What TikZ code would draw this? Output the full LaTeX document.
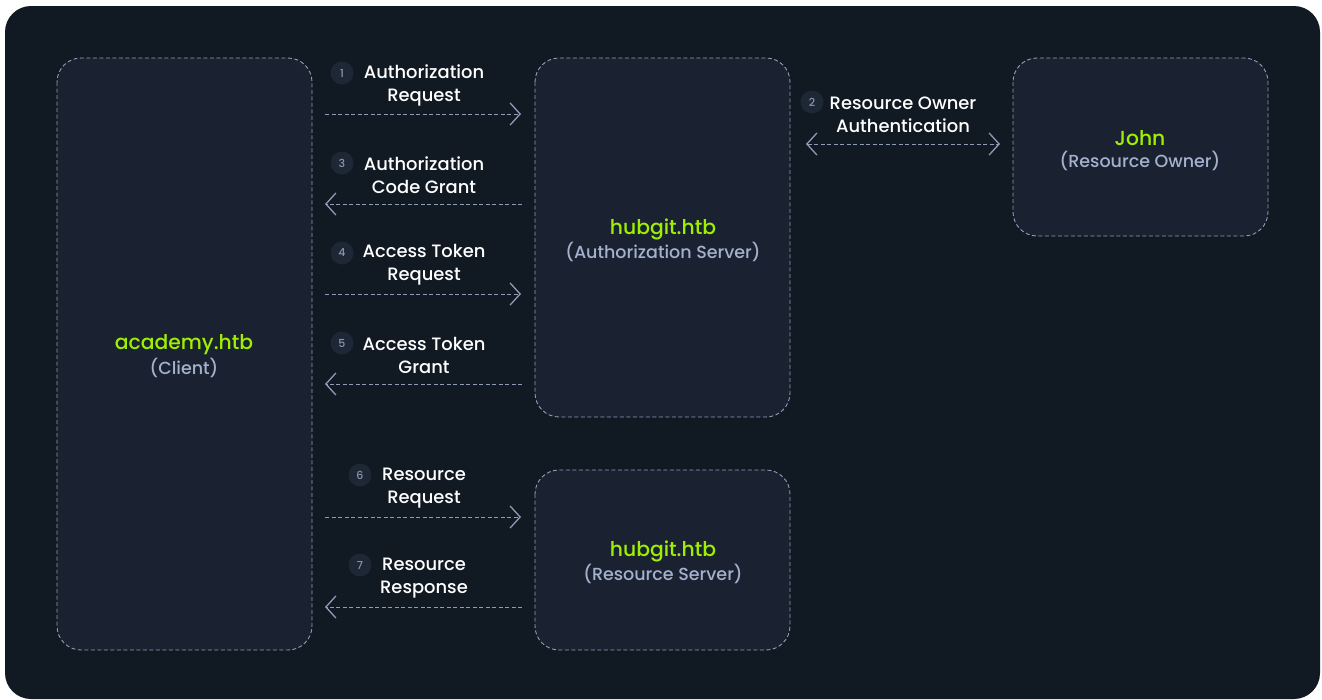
\documentclass[tikz,border=0pt]{standalone}
\usepackage{fontspec}
\setmainfont{Poppins}[UprightFont=* Medium]
\usetikzlibrary{arrows.meta}
\definecolor{bgdark}{HTML}{111922}
\definecolor{boxfill}{HTML}{1A2231}
\definecolor{dashc}{HTML}{8E9CB8}
\definecolor{htbgreen}{HTML}{9FEF00}
\definecolor{subgray}{HTML}{A4B1CD}
\definecolor{numfill}{HTML}{1E2736}
\definecolor{numtext}{HTML}{8A96AB}
\tikzset{
  x=1pt,y=-1pt,
  entity/.style={draw=dashc, fill=boxfill, dash pattern=on 4pt off 2.5pt, line width=0.9pt, rounded corners=24pt},
  flow/.style={draw=dashc, dash pattern=on 4pt off 2.5pt, line width=0.9pt},
  chev/.style={-{Straight Barb[length=10pt,width=22pt,line width=1.3pt]}},
  chevboth/.style={{Straight Barb[length=10pt,width=22pt,line width=1.3pt]}-{Straight Barb[length=10pt,width=22pt,line width=1.3pt]}},
  ttl/.style={text=htbgreen, font=\fontsize{20.3}{22}\selectfont, anchor=center},
  sub/.style={text=subgray, font=\fontsize{17.5}{19}\selectfont, anchor=center},
  lbl/.style={text=white, font=\fontsize{17.9}{23}\selectfont, align=center, anchor=center},
  num/.style={circle, fill=numfill, text=numtext, minimum size=23pt, inner sep=0pt, font=\fontsize{11}{11}\selectfont},
}
\begin{document}
\begin{tikzpicture}
\useasboundingbox (0,0) rectangle (1322,699);
\fill[white] (0,0) rectangle (1322,699);
\fill[bgdark, rounded corners=26pt] (5,6) rectangle (1320,699);
% boxes
\path[entity] (57,58) rectangle (312,650);
\path[entity] (535,58) rectangle (790,417);
\path[entity] (1013,58) rectangle (1268,236);
\path[entity] (535,470) rectangle (790,650);
% titles
\node[ttl] (clientT) at (184,345) {academy.htb};
\node[sub] (clientS) at (184,368) {(Client)};
\node[ttl] (authT) at (663,229) {hubgit.htb};
\node[sub] (authS) at (663,252) {(Authorization Server)};
\node[ttl] (johnT) at (1140,138) {John};
\node[sub] (johnS) at (1140,161) {(Resource Owner)};
\node[ttl] (resT) at (663,551) {hubgit.htb};
\node[sub] (resS) at (663,574) {(Resource Server)};
% flow endpoints
\coordinate (a1) at (325,114); \coordinate (b1) at (521,114);
\coordinate (a3) at (522,204); \coordinate (b3) at (325,204);
\coordinate (a4) at (325,294); \coordinate (b4) at (521,294);
\coordinate (a5) at (522,384); \coordinate (b5) at (325,384);
\coordinate (a6) at (325,517); \coordinate (b6) at (521,517);
\coordinate (a7) at (522,607); \coordinate (b7) at (325,607);
\coordinate (a2) at (806,144); \coordinate (b2) at (1000,144);
\draw[flow,chev] (a1) -- (b1);
\draw[flow,chev] (a3) -- (b3);
\draw[flow,chev] (a4) -- (b4);
\draw[flow,chev] (a5) -- (b5);
\draw[flow,chev] (a6) -- (b6);
\draw[flow,chev] (a7) -- (b7);
\draw[flow,chevboth] (a2) -- (b2);
% labels
\node[num] (n1) at (342,73) {1};
\node[lbl] (l1) at (424,85) {Authorization\\Request};
\node[num] (n3) at (342,163) {3};
\node[lbl] (l3) at (424,175) {Authorization\\Code Grant};
\node[num] (n4) at (342,253) {4};
\node[lbl] (l4) at (424,265) {Access Token\\Request};
\node[num] (n5) at (342,343) {5};
\node[lbl] (l5) at (424,355) {Access Token\\Grant};
\node[num] (n6) at (360,475) {6};
\node[lbl] (l6) at (424,488) {Resource\\Request};
\node[num] (n7) at (360,565) {7};
\node[lbl] (l7) at (424,578) {Resource\\Response};
\node[num] (n2) at (812,102) {2};
\node[lbl] (l2) at (903,115) {Resource Owner\\Authentication};
\end{tikzpicture}
\end{document}
